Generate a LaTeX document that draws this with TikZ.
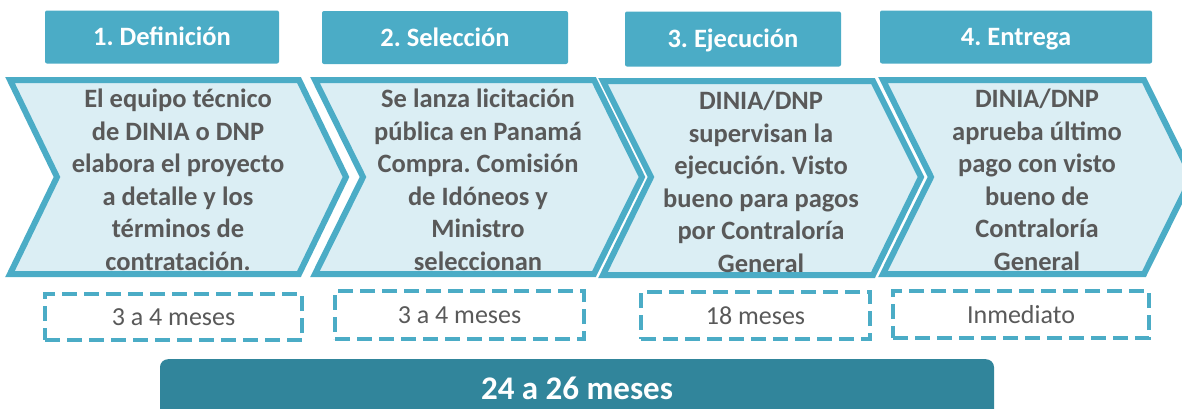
\documentclass[tikz,border=0pt]{standalone}
\usepackage{fontspec}
\setmainfont{Carlito}
\frenchspacing
\definecolor{hdrblue}{RGB}{75,172,198}
\definecolor{chevfill}{RGB}{219,238,244}
\definecolor{barteal}{RGB}{49,133,155}
\definecolor{txtgray}{RGB}{89,89,89}
\usetikzlibrary{positioning}

\begin{document}
\begin{tikzpicture}[x=1pt, y=-1pt,
  hdr/.style={fill=hdrblue, rounded corners=2pt, minimum height=53pt, text=white, font=\fontsize{26.5}{30}\selectfont\bfseries, text height=17pt, text depth=0pt, inner sep=0pt},
  chev/.style={draw=hdrblue, fill=chevfill, line width=6pt, line join=miter},
  chevtxt/.style={align=center, text=txtgray, font=\fontsize{26.5}{32.5}\selectfont\bfseries, inner sep=0pt},
  dur/.style={draw=hdrblue, dash pattern=on 15pt off 7pt, line width=4pt, minimum height=47pt, text=txtgray, font=\fontsize{26}{30}\selectfont, text height=17pt, text depth=0pt, inner sep=0pt},
  bar/.style={fill=barteal, rounded corners=8pt, text=white, font=\fontsize{33}{36}\selectfont\bfseries, inner sep=0pt},
]
  \useasboundingbox (0,0) rectangle (1182,408);

  % phase headers
  \node[hdr, minimum width=234pt] (h1) at (162,37) {1. Definición};
  \node[hdr, minimum width=246pt] (h2) at (445,37.5) {2. Selección};
  \node[hdr, minimum width=216pt, minimum height=55pt] (h3) at (733,39) {3. Ejecución};
  \node[hdr, minimum width=272pt] (h4) at (1016,37) {4. Entrega};

  % chevrons
  \draw[chev] (10,80) -- (299,80) -- ++(47,97) -- ++(-47,97) -- (10,274) -- ++(47,-97) -- cycle;
  \draw[chev] (315,80) -- (594,80) -- ++(48,97) -- ++(-48,97) -- (315,274) -- ++(48,-97) -- cycle;
  \draw[chev] (603,81) -- (873,81) -- ++(48,96) -- ++(-48,98) -- (603,275) -- ++(48,-98) -- cycle;
  \draw[chev] (883,80) -- (1144,80) -- ++(48,97) -- ++(-48,97) -- (883,274) -- ++(48,-97) -- cycle;

  \node[chevtxt] (t1) at (178,180) {El equipo técnico\\de DINIA o DNP\\elabora el proyecto\\a detalle y los\\términos de\\contratación.};
  \node[chevtxt] (t2) at (478,180) {Se lanza licitación\\pública en Panamá\\Compra. Comisión\\de Idóneos y\\Ministro\\seleccionan};
  \node[chevtxt] (t3) at (761,182) {DINIA/DNP\\supervisan la\\ejecución. Visto\\bueno para pagos\\por Contraloría\\General};
  \node[chevtxt] (t4) at (1037,180) {DINIA/DNP\\aprueba último\\pago con visto\\bueno de\\Contraloría\\General};

  % durations
  \node[dur, minimum width=257pt, minimum height=46pt] (d1) at (173.5,317) {3 a 4 meses};
  \node[dur, minimum width=249pt, minimum height=48pt] (d2) at (459.5,315) {3 a 4 meses};
  \node[dur, minimum width=229pt] (d3) at (755.5,315.5) {18 meses};
  \node[dur, minimum width=256pt] (d4) at (1021,314.5) {Inmediato};

  % total
  \node[bar, minimum width=834pt, minimum height=58pt, anchor=north] (total) at (577,359) {24 a 26 meses};
\end{tikzpicture}
\end{document}
